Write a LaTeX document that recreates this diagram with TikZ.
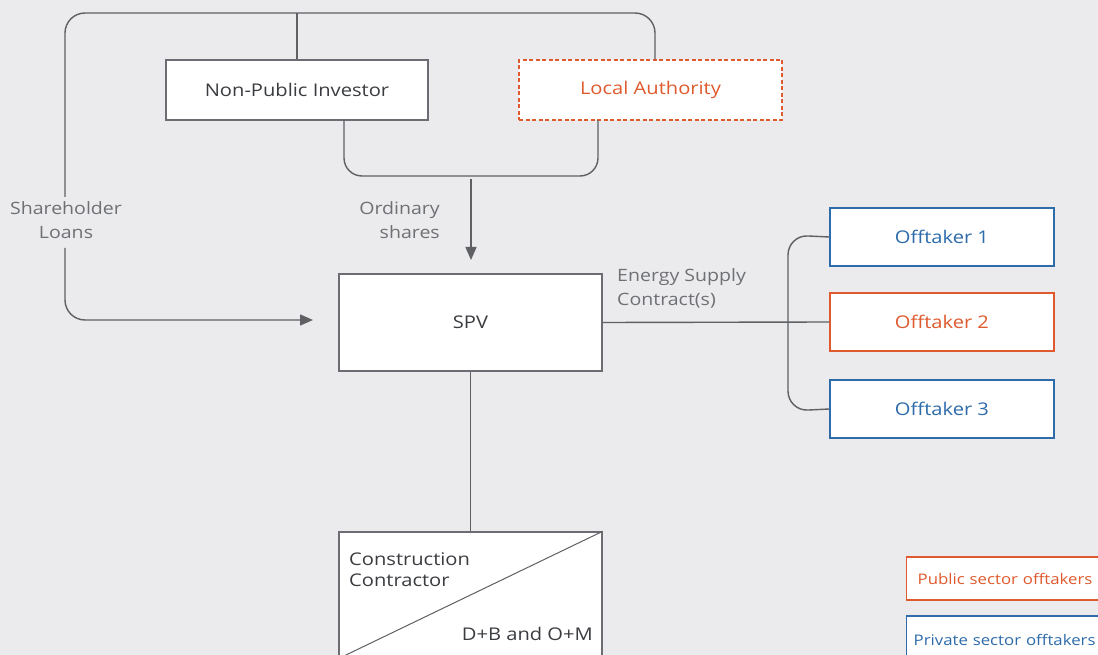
\documentclass[tikz,border=0pt]{standalone}
\usepackage{fontspec}
\setmainfont[FakeStretch=1.15]{Open Sans}
\usetikzlibrary{arrows.meta}
\definecolor{bg}{HTML}{EBEBED}
\definecolor{ln}{HTML}{5E6064}
\definecolor{bx}{HTML}{6B6D72}
\definecolor{tx}{HTML}{3A3C40}
\definecolor{lb}{HTML}{6E7074}
\definecolor{org}{HTML}{DF5A2E}
\definecolor{blu}{HTML}{2D6BAA}
\tikzset{
  boxn/.style={draw=bx, fill=white, line width=1.4pt, minimum width=262pt, minimum height=60pt, inner sep=0pt, text=tx, font=\fontsize{17.5}{20}\selectfont},
  offt/.style={draw=blu, fill=white, line width=1.3pt, minimum width=224pt, minimum height=58pt, inner sep=0pt, text=blu, font=\fontsize{17.5}{20}\selectfont},
  conn/.style={draw=ln, line width=1.4pt, rounded corners=20pt},
  lbl/.style={text=lb, font=\fontsize{17}{24}\selectfont, inner sep=0pt},
  tip/.style={-{Triangle[length=13pt,width=11pt]}},
  legbox/.style={fill=white, line width=1.3pt, anchor=west, font=\fontsize{14.6}{17}\selectfont}
}
\begin{document}
\begin{tikzpicture}[x=1pt,y=-1pt]
\fill[bg] (0,0) rectangle (1098,655);
\useasboundingbox (0,0) rectangle (1098,655);
\clip (0,0) rectangle (1098,655);
% nodes
\node[boxn] (npi) at (297,90) {\raisebox{-1.5pt}{Non-Public Investor}};
\node[boxn, draw=org, dashed, dash pattern=on 4pt off 2.5pt, text=org, minimum width=263pt] (la) at (650.5,90) {\raisebox{-1.5pt}{Local Authority}};
\node[boxn, minimum width=263pt, minimum height=97pt] (spv) at (470.5,322.5) {\raisebox{-1.5pt}{SPV}};
\node[offt] (o1) at (942,237) {\raisebox{-1.5pt}{Offtaker 1}};
\node[offt, draw=org, text=org] (o2) at (942,322) {\raisebox{-1.5pt}{Offtaker 2}};
\node[offt] (o3) at (942,409) {\raisebox{-1.5pt}{Offtaker 3}};
\node[boxn, minimum width=263pt, minimum height=126pt] (cc) at (470.5,595) {};
\draw[ln, line width=1pt] (cc.north east) -- (cc.south west);
\node[text=tx, font=\fontsize{17.5}{21}\selectfont, align=left, anchor=north west, inner sep=0pt] (cct) at (349,552) {Construction\\Contractor};
\node[text=tx, font=\fontsize{17.5}{21}\selectfont, anchor=east, inner sep=0pt] (ccd) at (593,634) {D+B and O+M};
% labels
\node[lbl, align=center] (sl) at (66,220) {Shareholder\\Loans};
\node[lbl, align=right, anchor=east] (os) at (440,220) {Ordinary\\shares};
\node[lbl, align=left, anchor=west] (es) at (617,288) {Energy Supply\\Contract(s)};
% legend
\node[legbox, draw=org, text=org, text width=200pt, inner xsep=11pt, minimum height=43pt] (lg1) at (906,578.5) {Public sector offtakers};
\node[legbox, draw=blu, text=blu, text width=204pt, inner xsep=7pt, minimum height=48pt] (lg2) at (906,640) {Private sector offtakers};
% connectors
\coordinate (tl) at (65,13);
\coordinate (tr) at (655,13);
\coordinate (sa) at (65,197);
\coordinate (sb) at (65,248);
\coordinate (sc) at (313,320);
\draw[conn] (sa) -- (tl) -- (tr) -- (tr |- la.north);
\draw[conn] (npi.north) -- (npi.north |- tl);
\draw[conn, tip] (sb) -- (65,320) -- (sc);
\coordinate (ua) at (344,120);
\coordinate (ub) at (598,120);
\draw[conn, rounded corners=18pt] (ua) -- (344,176) -- (598,176) -- (ub);
\coordinate (oa) at (471,179);
\draw[conn, rounded corners=0pt, tip] (oa) -- (471,260);
\draw[conn] (spv.east) -- (o2.west);
\draw[conn] (o1.west) -- (788,235) -- (788,411) -- (o3.west);
\draw[conn] (spv.south) -- (cc.north);
\end{tikzpicture}
\end{document}
